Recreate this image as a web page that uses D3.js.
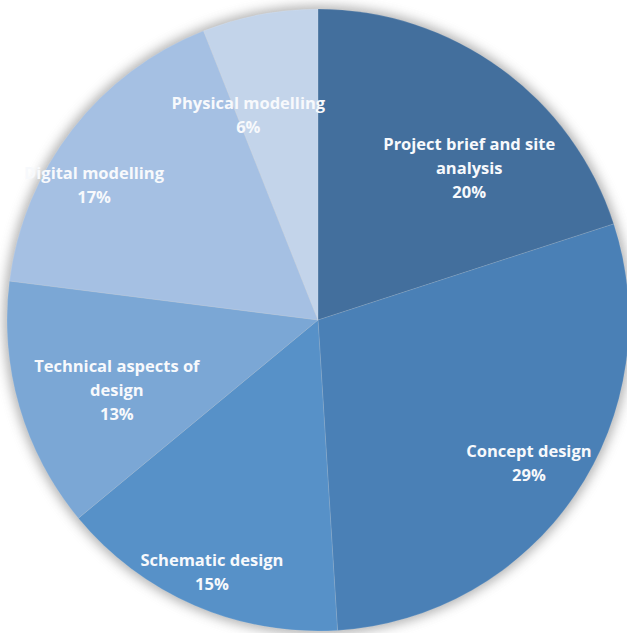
<!DOCTYPE html>
<html>
<head>
<meta charset="utf-8">
<script src="https://cdn.jsdelivr.net/npm/d3@7"></script>
<style>
  html, body { margin: 0; padding: 0; background: #ffffff; }
  svg { display: block; }
</style>
</head>
<body>
<svg id="chart" width="627" height="633"></svg>
<script>
// Share of time spent on each stage of the design studio work
const categories = [
  "Project brief and site analysis",
  "Concept design",
  "Schematic design",
  "Technical aspects of design",
  "Digital modelling",
  "Physical modelling"
];
const values = [20, 29, 15, 13, 17, 6];
// Label text split into lines as the data labels wrap
const labelLines = [
  ["Project brief and site", "analysis"],
  ["Concept design"],
  ["Schematic design"],
  ["Technical aspects of", "design"],
  ["Digital modelling"],
  ["Physical modelling"]
];
const colors = ["#436f9d", "#4a80b6", "#5791c8", "#7ba7d5", "#a5c0e3", "#c3d4ea"];

const width = 627, height = 633;
const cx = 318, cy = 320, radius = 311;

// Best-fit label placement: fraction of the radius and angular nudge (degrees)
const labelFit = [
  { r: 0.69, da: 8.8 },
  { r: 0.82, da: 0 },
  { r: 0.88, da: -0.6 },
  { r: 0.685, da: -3 },
  { r: 0.84, da: -6.8 },
  { r: 0.695, da: -8 }
];

const svg = d3.select("#chart");

const defs = svg.append("defs");
const blur = defs.append("filter")
  .attr("id", "halo")
  .attr("x", "-20%").attr("y", "-20%")
  .attr("width", "140%").attr("height", "140%");
blur.append("feGaussianBlur").attr("stdDeviation", 6);

const g = svg.append("g").attr("transform", `translate(${cx},${cy})`);

// soft shadow around the pie
g.append("circle")
  .attr("r", radius + 3)
  .attr("fill", "#7a7a7a")
  .attr("opacity", 0.6)
  .attr("filter", "url(#halo)");

const data = categories.map((c, i) => ({ name: c, value: values[i], lines: labelLines[i], color: colors[i], fit: labelFit[i] }));

const pie = d3.pie().value(d => d.value).sort(null);
const arc = d3.arc().innerRadius(0).outerRadius(radius);
const arcs = pie(data);

g.selectAll("path.slice")
  .data(arcs)
  .join("path")
  .attr("class", "slice")
  .attr("d", arc)
  .attr("fill", d => d.data.color)
  .attr("stroke", "rgba(255,255,255,0.12)")
  .attr("stroke-width", 1);

const lineH = 24;
const labels = g.selectAll("text.label")
  .data(arcs)
  .join("text")
  .attr("class", "label")
  .attr("text-anchor", "middle")
  .attr("font-family", "'Open Sans', Lato, sans-serif")
  .attr("font-weight", "bold")
  .attr("font-size", 16.5)
  .attr("fill", "#f7f9fc")
  .attr("transform", d => {
    const mid = (d.startAngle + d.endAngle) / 2 + d.data.fit.da * Math.PI / 180;
    const rr = radius * d.data.fit.r;
    const x = rr * Math.sin(mid);
    const y = -rr * Math.cos(mid);
    const nLines = d.data.lines.length + 1;
    const top = y - (nLines - 1) * lineH / 2 + 6;
    return `translate(${x},${top})`;
  });

labels.each(function(d) {
  const t = d3.select(this);
  const rows = d.data.lines.concat([d3.format(".0%")(d.data.value / d3.sum(values))]);
  rows.forEach((txt, i) => {
    t.append("tspan").attr("x", 0).attr("dy", i === 0 ? 0 : lineH).text(txt);
  });
});
</script>
</body>
</html>
